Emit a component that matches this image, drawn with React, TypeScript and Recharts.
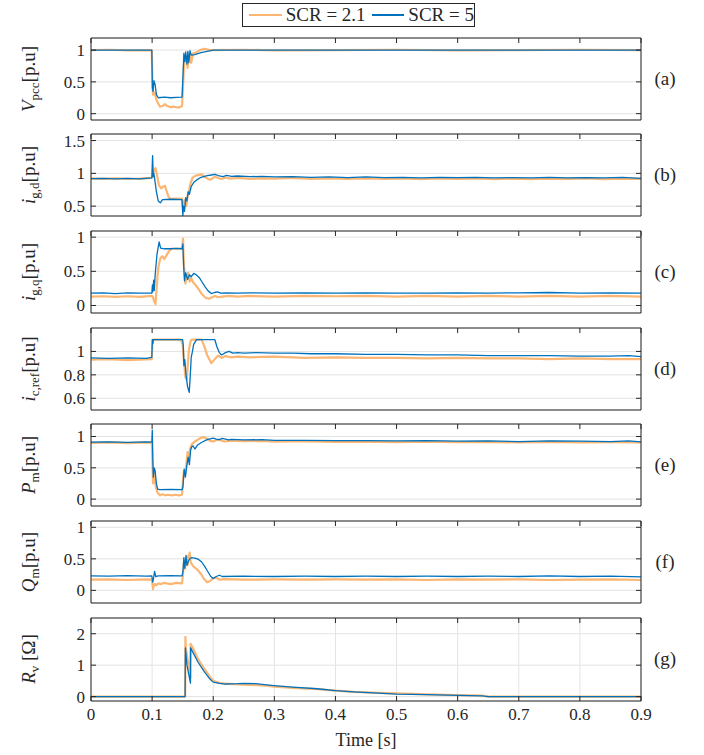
import React from "react";
import { LineChart, Line, XAxis, YAxis, CartesianGrid } from "recharts";

type P = [number, number][];

const timeTicks = [0, 0.1, 0.2, 0.3, 0.4, 0.5, 0.6, 0.7, 0.8, 0.9];
const timeTickLabels = ["0", "0.1", "0.2", "0.3", "0.4", "0.5", "0.6", "0.7", "0.8", "0.9"];
const panelLetters = ["(a)", "(b)", "(c)", "(d)", "(e)", "(f)", "(g)"];
const seriesNames = ["SCR = 2.1", "SCR = 5"];

// (a) V_pcc
const vpccWeak: P = [[0,1],[0.03,1.005],[0.06,0.995],[0.0995,1],[0.1005,0.45],[0.1015,0.3],[0.104,0.33],[0.107,0.22],[0.11,0.16],[0.113,0.11],[0.117,0.12],[0.121,0.15],[0.125,0.12],[0.13,0.1],[0.135,0.11],[0.14,0.1],[0.145,0.1],[0.149,0.12],[0.1505,0.4],[0.152,0.75],[0.154,0.85],[0.156,0.9],[0.158,0.72],[0.161,0.95],[0.164,0.8],[0.167,0.95],[0.172,0.96],[0.178,1.0],[0.186,1.02],[0.195,1.0],[0.25,1.005],[0.3,0.995],[0.4,1.0],[0.5,1.005],[0.6,0.995],[0.7,1.0],[0.8,1.005],[0.9,1.0]];
const vpccStrong: P = [[0,1],[0.05,1],[0.0995,1],[0.1005,0.4],[0.1015,0.35],[0.103,0.52],[0.105,0.45],[0.107,0.3],[0.11,0.25],[0.12,0.26],[0.13,0.25],[0.14,0.255],[0.149,0.26],[0.1505,0.6],[0.152,0.95],[0.1535,0.82],[0.155,0.97],[0.157,0.78],[0.1585,0.98],[0.16,0.8],[0.162,0.99],[0.164,0.92],[0.17,0.93],[0.18,0.96],[0.19,0.98],[0.2,1.0],[0.3,1.0],[0.5,1.0],[0.7,1.0],[0.9,1.0]];

// (b) i_g,d
const igdWeak: P = [[0,0.92],[0.02,0.915],[0.04,0.925],[0.06,0.915],[0.08,0.92],[0.0995,0.93],[0.101,0.98],[0.1035,1.05],[0.1055,1.08],[0.108,0.98],[0.111,0.82],[0.115,0.77],[0.118,0.8],[0.121,0.81],[0.124,0.72],[0.127,0.64],[0.13,0.61],[0.14,0.615],[0.149,0.61],[0.1505,0.45],[0.152,0.55],[0.154,0.6],[0.156,0.5],[0.158,0.65],[0.16,0.72],[0.163,0.85],[0.166,0.93],[0.17,0.96],[0.175,0.975],[0.181,0.985],[0.187,0.94],[0.1945,0.9],[0.2,0.93],[0.203,0.95],[0.208,0.93],[0.213,0.915],[0.22,0.935],[0.228,0.92],[0.24,0.93],[0.26,0.915],[0.28,0.925],[0.3,0.92],[0.33,0.93],[0.36,0.915],[0.39,0.925],[0.42,0.915],[0.45,0.925],[0.48,0.915],[0.51,0.925],[0.54,0.91],[0.57,0.925],[0.6,0.915],[0.63,0.925],[0.66,0.91],[0.69,0.92],[0.72,0.91],[0.75,0.92],[0.78,0.915],[0.81,0.925],[0.84,0.91],[0.87,0.92],[0.9,0.915]];
const igdStrong: P = [[0,0.92],[0.02,0.925],[0.04,0.915],[0.06,0.925],[0.08,0.915],[0.0995,0.93],[0.1008,1.27],[0.1018,0.95],[0.1028,1.0],[0.104,0.93],[0.107,0.72],[0.11,0.58],[0.1135,0.55],[0.117,0.6],[0.13,0.605],[0.149,0.6],[0.1503,0.36],[0.1515,0.5],[0.153,0.42],[0.155,0.63],[0.157,0.58],[0.159,0.72],[0.161,0.68],[0.164,0.8],[0.168,0.86],[0.173,0.9],[0.18,0.94],[0.19,0.965],[0.197,0.975],[0.203,0.985],[0.21,0.96],[0.216,0.95],[0.222,0.97],[0.23,0.955],[0.24,0.96],[0.26,0.95],[0.28,0.955],[0.3,0.945],[0.33,0.95],[0.36,0.94],[0.39,0.945],[0.42,0.935],[0.45,0.945],[0.48,0.935],[0.51,0.94],[0.54,0.93],[0.57,0.94],[0.6,0.935],[0.63,0.94],[0.66,0.93],[0.69,0.935],[0.72,0.93],[0.75,0.94],[0.78,0.93],[0.81,0.935],[0.84,0.93],[0.87,0.94],[0.9,0.925]];

// (c) i_g,q
const igqWeak: P = [[0,0.13],[0.02,0.135],[0.04,0.125],[0.06,0.135],[0.08,0.125],[0.0995,0.14],[0.101,0.13],[0.1035,0.06],[0.1055,0.02],[0.107,0.2],[0.109,0.45],[0.111,0.6],[0.114,0.7],[0.117,0.72],[0.12,0.68],[0.124,0.74],[0.128,0.8],[0.132,0.83],[0.14,0.83],[0.149,0.83],[0.1505,0.98],[0.152,0.6],[0.1545,0.32],[0.1565,0.42],[0.159,0.48],[0.1615,0.35],[0.164,0.4],[0.167,0.34],[0.171,0.3],[0.176,0.24],[0.182,0.16],[0.188,0.11],[0.193,0.1],[0.198,0.12],[0.203,0.14],[0.208,0.12],[0.215,0.13],[0.225,0.14],[0.24,0.13],[0.26,0.14],[0.3,0.13],[0.35,0.14],[0.4,0.135],[0.45,0.14],[0.5,0.13],[0.55,0.14],[0.6,0.13],[0.65,0.14],[0.7,0.13],[0.75,0.14],[0.8,0.13],[0.85,0.14],[0.9,0.13]];
const igqStrong: P = [[0,0.18],[0.02,0.185],[0.04,0.175],[0.06,0.185],[0.08,0.18],[0.0995,0.18],[0.1005,0.3],[0.1012,0.2],[0.1025,0.37],[0.1035,0.22],[0.105,0.45],[0.108,0.75],[0.1115,0.93],[0.114,0.84],[0.12,0.83],[0.13,0.83],[0.14,0.835],[0.149,0.83],[0.1503,0.9],[0.1515,0.6],[0.153,0.36],[0.155,0.48],[0.158,0.38],[0.161,0.45],[0.164,0.42],[0.168,0.47],[0.172,0.45],[0.177,0.41],[0.182,0.34],[0.187,0.27],[0.192,0.21],[0.197,0.175],[0.202,0.19],[0.207,0.2],[0.212,0.18],[0.22,0.185],[0.24,0.18],[0.26,0.185],[0.3,0.18],[0.35,0.185],[0.4,0.18],[0.45,0.185],[0.5,0.18],[0.55,0.18],[0.6,0.185],[0.65,0.18],[0.7,0.185],[0.75,0.19],[0.8,0.18],[0.85,0.185],[0.9,0.18]];

// (d) i_c,ref
const icrefWeak: P = [[0,0.93],[0.03,0.935],[0.06,0.925],[0.0995,0.935],[0.1005,1.1],[0.12,1.1],[0.147,1.1],[0.15,1.06],[0.152,0.92],[0.1545,0.78],[0.1565,0.76],[0.158,0.85],[0.16,1.0],[0.1625,1.08],[0.1645,1.1],[0.181,1.1],[0.185,1.05],[0.19,0.97],[0.197,0.9],[0.202,0.93],[0.208,0.965],[0.214,0.945],[0.22,0.96],[0.228,0.95],[0.24,0.955],[0.26,0.95],[0.3,0.955],[0.35,0.945],[0.4,0.95],[0.45,0.945],[0.5,0.945],[0.55,0.94],[0.6,0.945],[0.65,0.94],[0.7,0.94],[0.75,0.935],[0.8,0.94],[0.85,0.935],[0.9,0.935]];
const icrefStrong: P = [[0,0.945],[0.03,0.94],[0.06,0.945],[0.09,0.94],[0.0995,0.95],[0.1005,1.1],[0.1015,1.07],[0.102,1.1],[0.13,1.1],[0.15,1.1],[0.151,1.05],[0.152,0.88],[0.1535,0.93],[0.1555,0.8],[0.158,0.7],[0.1607,0.65],[0.1625,0.8],[0.164,0.95],[0.166,1.0],[0.168,1.06],[0.1727,1.1],[0.2027,1.1],[0.206,1.04],[0.21,0.99],[0.2137,0.97],[0.22,0.99],[0.226,1.0],[0.232,0.985],[0.24,0.99],[0.25,0.985],[0.27,0.99],[0.3,0.985],[0.33,0.985],[0.36,0.98],[0.4,0.98],[0.45,0.975],[0.5,0.975],[0.55,0.97],[0.6,0.97],[0.65,0.965],[0.7,0.965],[0.75,0.965],[0.8,0.96],[0.85,0.96],[0.88,0.965],[0.9,0.955]];

// (e) P_m
const pmWeak: P = [[0,0.9],[0.03,0.905],[0.06,0.895],[0.09,0.905],[0.0995,0.9],[0.1005,0.6],[0.1015,0.25],[0.1035,0.42],[0.106,0.2],[0.109,0.1],[0.113,0.06],[0.117,0.08],[0.121,0.06],[0.126,0.07],[0.132,0.06],[0.138,0.07],[0.144,0.06],[0.149,0.07],[0.1505,0.3],[0.152,0.45],[0.154,0.4],[0.156,0.55],[0.158,0.75],[0.16,0.62],[0.162,0.8],[0.165,0.88],[0.17,0.92],[0.175,0.95],[0.18,0.98],[0.185,0.99],[0.19,0.96],[0.195,0.93],[0.2,0.92],[0.205,0.94],[0.21,0.95],[0.215,0.93],[0.22,0.92],[0.23,0.935],[0.25,0.925],[0.28,0.93],[0.3,0.92],[0.35,0.925],[0.4,0.915],[0.45,0.92],[0.5,0.91],[0.55,0.92],[0.6,0.91],[0.65,0.915],[0.7,0.905],[0.75,0.915],[0.8,0.905],[0.85,0.91],[0.9,0.905]];
const pmStrong: P = [[0,0.91],[0.03,0.915],[0.06,0.905],[0.09,0.915],[0.0995,0.91],[0.1003,1.1],[0.1012,0.6],[0.102,0.35],[0.1035,0.5],[0.105,0.45],[0.107,0.25],[0.109,0.16],[0.112,0.15],[0.13,0.155],[0.149,0.15],[0.1505,0.2],[0.1525,0.48],[0.1545,0.35],[0.157,0.55],[0.159,0.67],[0.161,0.55],[0.163,0.78],[0.165,0.84],[0.167,0.85],[0.17,0.8],[0.174,0.86],[0.18,0.9],[0.19,0.95],[0.2,0.975],[0.205,0.96],[0.21,0.95],[0.215,0.97],[0.22,0.96],[0.225,0.945],[0.23,0.955],[0.25,0.945],[0.28,0.95],[0.3,0.94],[0.35,0.94],[0.4,0.935],[0.45,0.935],[0.5,0.93],[0.55,0.935],[0.6,0.925],[0.65,0.93],[0.7,0.92],[0.75,0.93],[0.8,0.925],[0.85,0.92],[0.88,0.93],[0.9,0.915]];

// (f) Q_m
const qmWeak: P = [[0,0.17],[0.03,0.175],[0.06,0.165],[0.09,0.175],[0.0995,0.17],[0.1005,0.1],[0.1015,0.02],[0.103,0.09],[0.105,0.1],[0.107,0.08],[0.11,0.11],[0.115,0.1],[0.12,0.12],[0.13,0.1],[0.14,0.12],[0.149,0.11],[0.1505,0.25],[0.152,0.45],[0.154,0.35],[0.1565,0.55],[0.158,0.4],[0.1615,0.6],[0.163,0.45],[0.166,0.4],[0.17,0.36],[0.175,0.32],[0.18,0.26],[0.185,0.18],[0.19,0.13],[0.195,0.15],[0.2,0.19],[0.205,0.2],[0.21,0.17],[0.22,0.18],[0.25,0.17],[0.3,0.175],[0.35,0.17],[0.4,0.175],[0.45,0.17],[0.5,0.175],[0.55,0.165],[0.6,0.175],[0.65,0.17],[0.7,0.175],[0.75,0.165],[0.8,0.17],[0.85,0.175],[0.9,0.165]];
const qmStrong: P = [[0,0.23],[0.03,0.225],[0.06,0.235],[0.09,0.225],[0.0995,0.23],[0.101,0.13],[0.1025,0.2],[0.104,0.3],[0.106,0.22],[0.11,0.23],[0.13,0.235],[0.149,0.23],[0.1505,0.3],[0.152,0.52],[0.1535,0.35],[0.1555,0.55],[0.157,0.4],[0.16,0.48],[0.164,0.52],[0.17,0.51],[0.176,0.49],[0.181,0.45],[0.186,0.38],[0.191,0.3],[0.196,0.22],[0.2,0.19],[0.205,0.22],[0.21,0.24],[0.215,0.22],[0.25,0.225],[0.3,0.22],[0.35,0.225],[0.4,0.22],[0.45,0.225],[0.5,0.22],[0.55,0.225],[0.6,0.22],[0.65,0.225],[0.7,0.22],[0.75,0.23],[0.8,0.22],[0.85,0.225],[0.9,0.215]];

// (g) R_v
const rvWeak: P = [[0,0],[0.154,0],[0.1545,1.9],[0.155,1.55],[0.158,1.2],[0.161,0.8],[0.1625,0.6],[0.163,1.68],[0.168,1.5],[0.175,1.2],[0.185,0.9],[0.195,0.62],[0.2,0.5],[0.21,0.44],[0.22,0.41],[0.25,0.38],[0.28,0.36],[0.3,0.32],[0.33,0.28],[0.37,0.24],[0.4,0.19],[0.43,0.15],[0.47,0.12],[0.5,0.1],[0.55,0.07],[0.6,0.05],[0.64,0.03],[0.65,0],[0.9,0]];
const rvStrong: P = [[0,0],[0.154,0],[0.1545,1.55],[0.157,1.0],[0.1628,0.43],[0.163,1.55],[0.167,1.4],[0.175,1.1],[0.185,0.8],[0.195,0.55],[0.2,0.46],[0.21,0.42],[0.22,0.4],[0.24,0.41],[0.25,0.42],[0.27,0.41],[0.28,0.39],[0.3,0.35],[0.33,0.3],[0.37,0.25],[0.4,0.19],[0.43,0.15],[0.47,0.11],[0.5,0.08],[0.55,0.06],[0.6,0.04],[0.64,0.02],[0.65,0],[0.9,0]];

const ORANGE = "#FBB673";
const BLUE = "#0072BD";
const AXIS = "#262626";
const GRID = "#e3e3e3";
const FONT = "'Liberation Serif', 'Times New Roman', serif";

const rows = (p: P) => p.map(([t, v]) => ({ t, v }));
const blank = () => "";

const PANEL_TOP = 37.5;
const PANEL_STEP = 96.7;
const PLOT_H = 82;

// serif tick labels drawn by hand so the font is under control
const YTick = ({ x, y, payload }: any) => (
  <text x={x} y={y} dy="0.35em" textAnchor="end" fontSize={17} fontFamily={FONT} fill={AXIS}>
    {String(payload.value)}
  </text>
);
const XTick = ({ x, y, payload }: any) => (
  <text x={x} y={y} dy="0.8em" textAnchor="middle" fontSize={17} fontFamily={FONT} fill={AXIS}>
    {timeTickLabels[timeTicks.indexOf(payload.value)] ?? String(payload.value)}
  </text>
);

const Panel = ({ top, weak, strong, domain, ticks, last }: any) => {
  const h = last ? PLOT_H + 50 : PLOT_H + 10;
  return (
    <div style={{ position: "absolute", left: 0, top: top - 5 }}>
      <LineChart width={704} height={h} margin={{ top: 4, right: 62, bottom: 4, left: 41 }}>
        <CartesianGrid xAxisId="b" yAxisId="l" stroke={GRID} />
        <XAxis xAxisId="b" dataKey="t" type="number" domain={[0, 0.9]} ticks={timeTicks}
          orientation="bottom" height={last ? 40 : 1} tickSize={-5} tickMargin={last ? 10 : 0}
          tick={last ? <XTick /> : false} stroke={AXIS} allowDataOverflow interval={0} />
        <XAxis xAxisId="t" dataKey="t" type="number" domain={[0, 0.9]} ticks={timeTicks}
          orientation="top" height={1} tickSize={-5} tickFormatter={blank} stroke={AXIS}
          allowDataOverflow interval={0} />
        <YAxis yAxisId="l" type="number" domain={domain} ticks={ticks} width={50} tickSize={-5}
          tickMargin={11} stroke={AXIS} tick={<YTick />} allowDataOverflow interval={0} />
        <YAxis yAxisId="r" orientation="right" type="number" domain={domain} ticks={ticks} width={1}
          tickSize={-5} tickFormatter={blank} stroke={AXIS} allowDataOverflow interval={0} />
        <Line xAxisId="b" yAxisId="l" data={rows(weak)} dataKey="v" type="linear" stroke={ORANGE}
          strokeWidth={2.2} dot={false} isAnimationActive={false} strokeLinejoin="round" />
        <Line xAxisId="b" yAxisId="l" data={rows(strong)} dataKey="v" type="linear" stroke={BLUE}
          strokeWidth={1.3} dot={false} isAnimationActive={false} strokeLinejoin="round" />
        <Line xAxisId="t" yAxisId="r" data={rows(strong)} dataKey="v" stroke="none" dot={false}
          isAnimationActive={false} legendType="none" />
      </LineChart>
    </div>
  );
};

const Sub = ({ children }: any) => (
  <span style={{ fontSize: 13, verticalAlign: "-4px" }}>{children}</span>
);

const yLabels = [
  <><i>V</i><Sub>pcc</Sub>[p.u]</>,
  <><i>i</i><Sub>g,d</Sub>[p.u]</>,
  <><i>i</i><Sub>g,q</Sub>[p.u]</>,
  <><i>i</i><Sub>c,ref</Sub>[p.u]</>,
  <><i>P</i><Sub>m</Sub>[p.u]</>,
  <><i>Q</i><Sub>m</Sub>[p.u]</>,
  <><i>R</i><Sub>v</Sub> [Ω]</>,
];

const panels = [
  { weak: vpccWeak, strong: vpccStrong, domain: [-0.1, 1.19], ticks: [0, 0.5, 1] },
  { weak: igdWeak, strong: igdStrong, domain: [0.35, 1.6], ticks: [0.5, 1, 1.5] },
  { weak: igqWeak, strong: igqStrong, domain: [-0.11, 1.09], ticks: [0, 0.5, 1] },
  { weak: icrefWeak, strong: icrefStrong, domain: [0.5, 1.2], ticks: [0.6, 0.8, 1] },
  { weak: pmWeak, strong: pmStrong, domain: [-0.11, 1.2], ticks: [0, 0.5, 1] },
  { weak: qmWeak, strong: qmStrong, domain: [-0.2, 1.1], ticks: [0, 0.5, 1] },
  { weak: rvWeak, strong: rvStrong, domain: [-0.14, 2.5], ticks: [0, 1, 2] },
];

const App = () => {
  return (
    <div style={{ position: "absolute", left: 0, top: 0, width: 704, height: 755, background: "#fff", fontFamily: FONT, color: AXIS }}>
      {panels.map((p, i) => (
        <Panel key={i} top={PANEL_TOP + i * PANEL_STEP} {...p} last={i === panels.length - 1} />
      ))}
      {panels.map((_, i) => {
        const cy = PANEL_TOP + i * PANEL_STEP + PLOT_H / 2;
        return (
          <React.Fragment key={i}>
            <div style={{ position: "absolute", left: 30, top: cy, transform: "translate(-50%, -50%) rotate(-90deg)", whiteSpace: "nowrap", fontSize: 19 }}>
              {yLabels[i]}
            </div>
            <div style={{ position: "absolute", left: 665, top: cy, transform: "translate(-50%, -50%)", fontSize: 19 }}>
              {panelLetters[i]}
            </div>
          </React.Fragment>
        );
      })}
      <div style={{ position: "absolute", left: 366, top: 740, transform: "translate(-50%, -50%)", fontSize: 18, whiteSpace: "nowrap" }}>
        Time [s]
      </div>
      <div style={{ position: "absolute", left: 242, top: 3, width: 231, height: 22, border: `1px solid ${AXIS}`, background: "#fff", display: "flex", alignItems: "center", fontSize: 19, whiteSpace: "nowrap" }}>
        <span style={{ width: 34, height: 2, background: ORANGE, marginLeft: 6, marginRight: 4 }} />
        <span>{seriesNames[0]}</span>
        <span style={{ width: 34, height: 1.5, background: BLUE, marginLeft: 6, marginRight: 4 }} />
        <span>{seriesNames[1]}</span>
      </div>
    </div>
  );
};

export default App;
